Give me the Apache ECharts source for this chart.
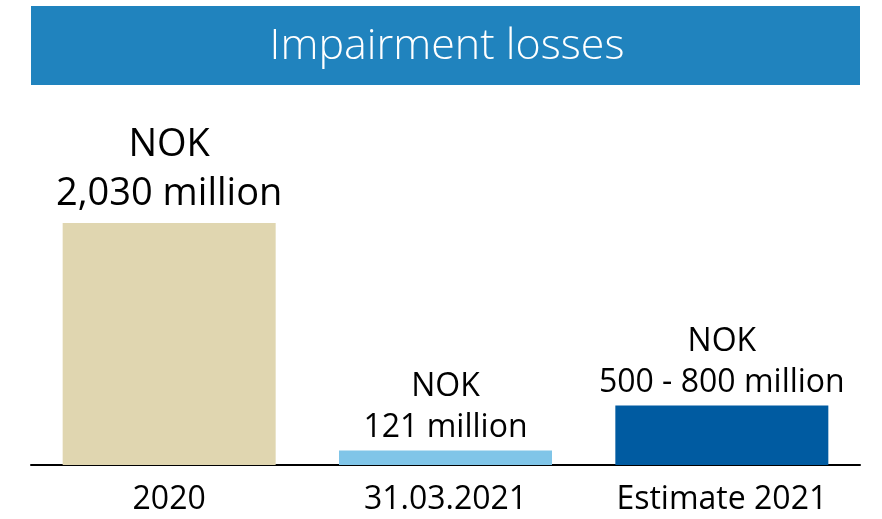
<!DOCTYPE html>
<html>
<head>
<meta charset="utf-8">
<title>Impairment losses</title>
<script src="https://cdn.jsdelivr.net/npm/echarts@6/dist/echarts.min.js"></script>
<style>
  html, body { margin: 0; padding: 0; background: #fff; }
  #main { width: 882px; height: 519px; }
</style>
</head>
<body>
<div id="main"></div>
<script>
// data
var categories = ['2020', '31.03.2021', 'Estimate 2021'];
var values = [2030, 121, 500];          // NOK million (estimate bar drawn at lower end)
var labelTexts = ['NOK\n2,030 million', 'NOK\n121 million', 'NOK\n500 - 800 million'];
var barColors = ['#E0D6B0', '#80C5E8', '#005BA1'];

var myChart = echarts.init(document.getElementById('main'));

var labelSize = [38, 32, 32];
var labelGap = [5, 2, 2];

var seriesData = values.map(function (v, i) {
  return {
    value: v,
    itemStyle: { color: barColors[i] },
    label: {
      fontSize: labelSize[i],
      lineHeight: labelSize[i] * 1.28,
      distance: labelGap[i]
    }
  };
});

var option = {
  backgroundColor: '#fff',
  animation: false,
  graphic: [
    {
      type: 'rect',
      shape: { x: 31, y: 6, width: 829, height: 79 },
      style: { fill: '#2083BE' },
      z: 0
    },
    {
      type: 'text',
      x: 447,
      y: 47,
      style: {
        text: 'Impairment losses',
        fill: '#fff',
        fontSize: 43,
        fontWeight: 300,
        fontFamily: 'Open Sans',
        align: 'center',
        verticalAlign: 'middle'
      },
      z: 1
    }
  ],
  grid: {
    left: 31,
    right: 22,
    top: 223,
    bottom: 54
  },
  xAxis: {
    type: 'category',
    data: categories,
    axisLine: { lineStyle: { color: '#000', width: 2 } },
    axisTick: { show: false },
    axisLabel: {
      color: '#000',
      fontSize: 32,
      fontFamily: 'Open Sans',
      margin: 19
    }
  },
  yAxis: {
    type: 'value',
    min: 0,
    max: 2030,
    show: false,
    splitLine: { show: false }
  },
  series: [
    {
      type: 'bar',
      data: seriesData,
      barWidth: 213,
      label: {
        show: true,
        position: 'top',
        color: '#000',
        fontFamily: 'Open Sans',
        formatter: function (p) { return labelTexts[p.dataIndex]; }
      }
    }
  ]
};

myChart.setOption(option);
</script>
</body>
</html>
